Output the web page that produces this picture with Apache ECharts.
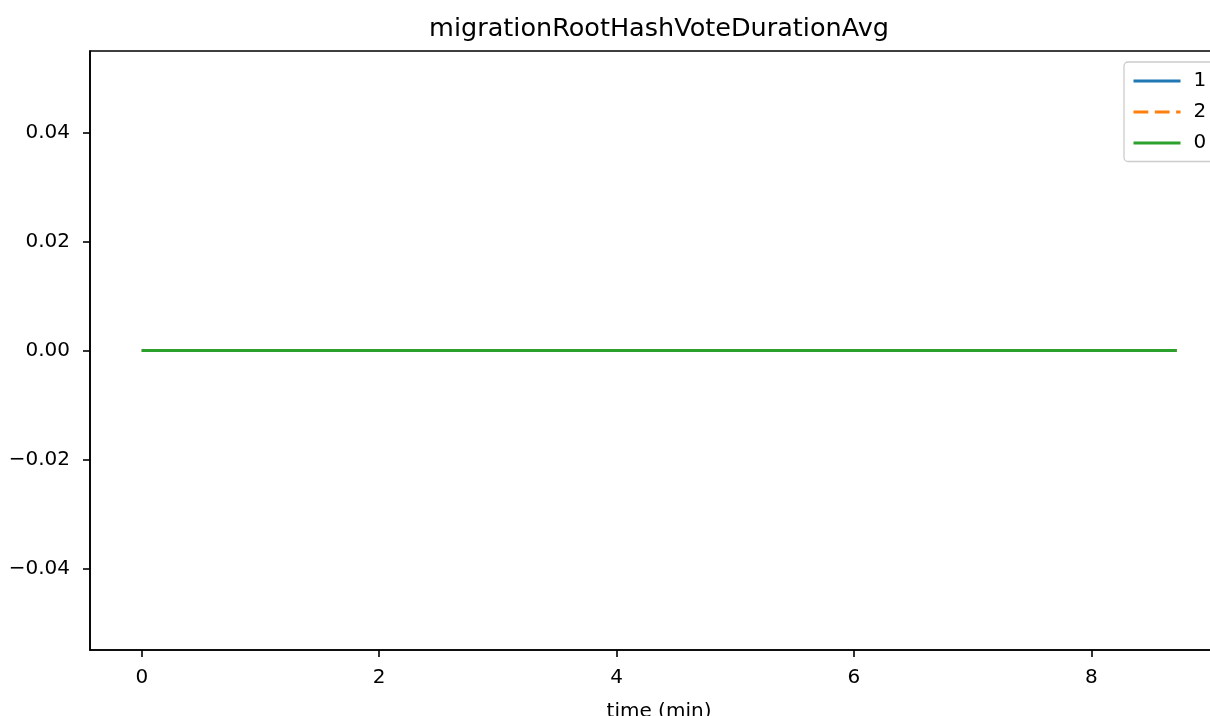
<!DOCTYPE html>
<html>
<head>
<meta charset="utf-8">
<script src="https://cdn.jsdelivr.net/npm/echarts@6/dist/echarts.min.js"></script>
<style>
html,body{margin:0;padding:0;background:#fff;}
#c{width:1210px;height:716px;}
</style>
</head>
<body>
<div id="c"></div>
<script>
// Data
const chartTitle = 'migrationRootHashVoteDurationAvg';
const xAxisName = 'time (min)';
const seriesNames = ['1', '2', '0'];
const times = [0, 0.5, 1, 1.5, 2, 2.5, 3, 3.5, 4, 4.5, 5, 5.5, 6, 6.5, 7, 7.5, 8, 8.5, 8.72];
const values1 = [0, 0, 0, 0, 0, 0, 0, 0, 0, 0, 0, 0, 0, 0, 0, 0, 0, 0, 0];
const values2 = [0, 0, 0, 0, 0, 0, 0, 0, 0, 0, 0, 0, 0, 0, 0, 0, 0, 0, 0];
const values0 = [0, 0, 0, 0, 0, 0, 0, 0, 0, 0, 0, 0, 0, 0, 0, 0, 0, 0, 0];
const xTicks = [0, 2, 4, 6, 8];
const yTicks = [-0.04, -0.02, 0, 0.02, 0.04];

const colors = ['#1f77b4', '#ff7f0e', '#2ca02c'];
const seriesValues = [values1, values2, values0];

const FONT = 'DejaVu Sans';
const chart = echarts.init(document.getElementById('c'), null, {renderer: 'canvas'});

const series = seriesNames.map((name, i) => ({
  name: name,
  type: 'line',
  symbol: 'none',
  showSymbol: false,
  animation: false,
  data: times.map((t, k) => [t, seriesValues[i][k]]),
  lineStyle: {color: colors[i], width: 3, type: i === 1 ? [14.8, 6.5] : 'solid'},
  itemStyle: {color: colors[i]},
  z: 2 + i
}));

const option = {
  animation: false,
  backgroundColor: '#ffffff',
  textStyle: {fontFamily: FONT},
  title: {
    text: chartTitle,
    left: 654,
    top: 11,
    textAlign: 'center',
    textStyle: {fontFamily: FONT, fontSize: 25.5, fontWeight: 'normal', color: '#000'}
  },
  legend: {
    data: seriesNames,
    orient: 'vertical',
    left: 1124,
    top: 62,
    padding: [9, 40, 8.5, 8],
    itemWidth: 47,
    itemHeight: 14,
    itemGap: 11,
    backgroundColor: '#ffffff',
    borderColor: '#cccccc',
    borderWidth: 1.3,
    borderRadius: 4,
    itemStyle: {color: 'transparent', borderWidth: 0, opacity: 0},
    lineStyle: {width: 3},
    textStyle: {fontFamily: FONT, fontSize: 20, color: '#000', padding: [0, 0, 0, 8]}
  },
  grid: {
    left: 90,
    top: 51,
    width: 1138,
    height: 599,
    outerBoundsMode: 'none',
    containLabel: false,
    show: true,
    borderColor: '#000',
    borderWidth: 1.6,
    backgroundColor: 'transparent'
  },
  xAxis: {
    type: 'value',
    min: -0.436,
    max: 9.152,
    name: xAxisName,
    nameLocation: 'middle',
    nameGap: 52,
    nameTextStyle: {fontFamily: FONT, fontSize: 20, color: '#000'},
    axisLine: {show: true, onZero: false, lineStyle: {color: '#000', width: 1.6}},
    axisTick: {show: true, inside: false, length: 7, lineStyle: {color: '#000', width: 1.6}, customValues: xTicks},
    axisLabel: {show: true, margin: 18, fontFamily: FONT, fontSize: 20, color: '#000', customValues: xTicks,
      formatter: v => String(v)},
    splitLine: {show: false}
  },
  yAxis: {
    type: 'value',
    min: -0.055,
    max: 0.055,
    axisLine: {show: true, onZero: false, lineStyle: {color: '#000', width: 1.6}},
    axisTick: {show: true, inside: false, length: 7, lineStyle: {color: '#000', width: 1.6}, customValues: yTicks},
    axisLabel: {show: true, margin: 20, fontFamily: FONT, fontSize: 20, color: '#000', customValues: yTicks,
      formatter: v => (v < 0 ? '\u2212' : '') + Math.abs(v).toFixed(2)},
    splitLine: {show: false}
  },
  series: series
};
chart.setOption(option);
</script>
</body>
</html>
